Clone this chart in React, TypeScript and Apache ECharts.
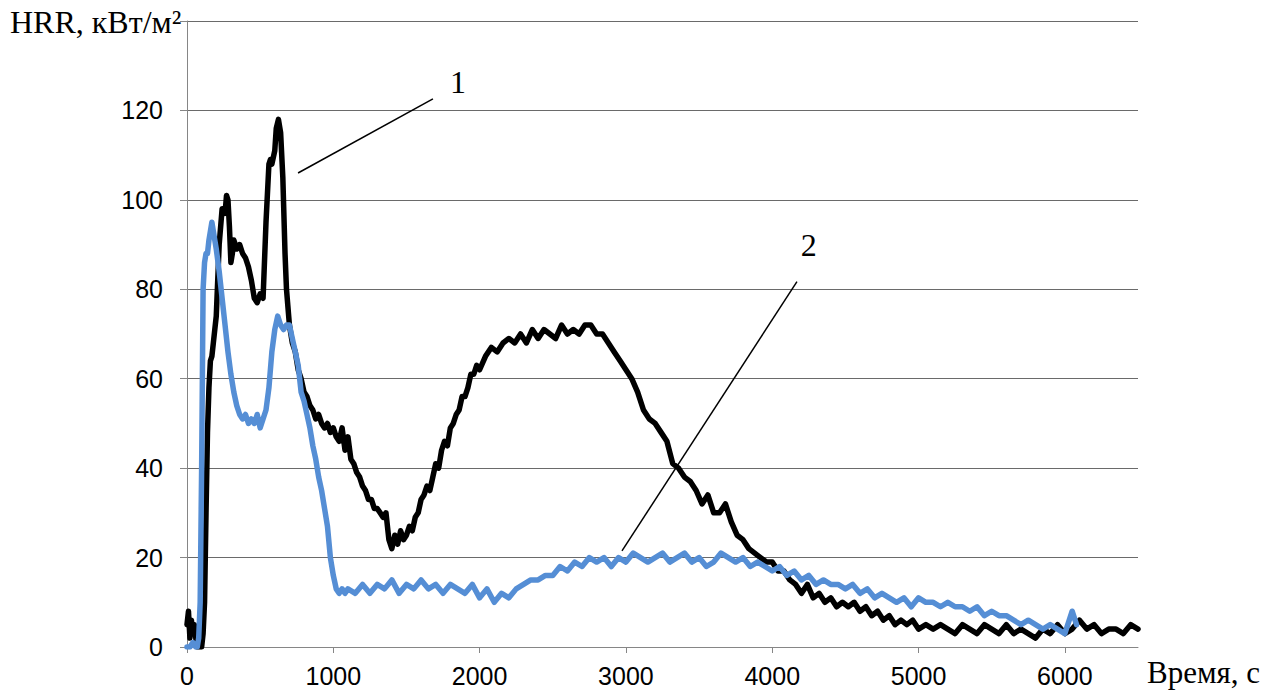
import React, { useEffect, useRef } from "react";
import * as echarts from "echarts";

// Curve 1 (black)
const blackTime = [0,10,20,30,40,50,60,70,80,90,100,110,120,130,140,150,160,170,180,190,200,220,240,260,270,280,290,300,310,320,340,360,380,400,420,440,460,480,500,520,540,560,570,580,600,610,625,640,655,670,680,700,720,740,760,780,800,820,840,860,880,900,920,940,960,980,1000,1020,1040,1060,1080,1100,1120,1140,1160,1180,1200,1220,1240,1260,1280,1300,1320,1340,1360,1380,1400,1420,1440,1460,1480,1500,1520,1540,1560,1580,1600,1620,1640,1660,1680,1700,1720,1740,1760,1780,1800,1820,1840,1860,1880,1900,1920,1940,1960,1980,2000,2040,2080,2120,2160,2200,2240,2280,2320,2360,2400,2440,2480,2520,2560,2600,2640,2680,2720,2760,2800,2840,2880,2920,2960,3000,3040,3080,3120,3160,3200,3240,3280,3320,3360,3400,3440,3480,3520,3560,3600,3640,3680,3720,3760,3800,3840,3880,3920,3960,4000,4040,4080,4120,4160,4200,4240,4280,4320,4360,4400,4440,4480,4520,4560,4600,4640,4680,4720,4760,4800,4840,4880,4920,4960,5000,5050,5100,5150,5200,5250,5300,5350,5400,5450,5500,5550,5600,5650,5700,5750,5800,5850,5900,5950,6000,6050,6100,6150,6200,6250,6300,6350,6400,6450,6500];
const blackHRR = [5,8,2,6,3,5,2,0,1,0,0,3,10,30,48,58,64,65,68,71,74,90,98,97,101,100,94,86,88,91,89,90,88,87,85,82,78,77,79,78,95,108,109,108,111,116,118,115,105,88,80,72,68,66,62,60,57,56,54,53,51,52,50,49,50,48,49,47,46,49,44,47,42,41,39,38,36,35,33,33,31,31,30,29,30,24,22,25,23,26,24,25,27,26,29,30,33,34,36,35,38,41,40,44,46,45,49,50,52,53,56,56,58,61,61,63,62,65,67,66,68,69,68,70,68,71,69,71,70,69,72,70,71,70,72,72,70,70,68,66,64,62,60,57,53,51,50,48,46,41,40,38,37,35,32,34,30,30,32,28,25,24,22,21,20,19,19,17,17,15,14,12,14,11,12,10,11,9,10,9,10,8,9,7,8,6,7,5,6,5,6,4,5,4,5,4,3,5,4,3,5,4,3,5,3,4,3,2,4,3,5,3,4,6,4,5,3,4,4,3,5,4,4,5,3];

// Curve 2 (blue)
const blueTime = [0,20,40,60,70,80,90,100,110,120,130,140,150,160,170,180,190,200,220,240,260,280,300,320,340,360,380,400,420,440,460,480,500,520,540,560,580,600,620,640,660,680,700,720,740,760,780,800,820,840,860,880,900,920,940,960,980,1000,1020,1040,1060,1080,1100,1150,1200,1250,1300,1350,1400,1450,1500,1550,1600,1650,1700,1750,1800,1850,1900,1950,2000,2050,2100,2150,2200,2250,2300,2350,2400,2450,2500,2550,2600,2650,2700,2750,2800,2850,2900,2950,3000,3050,3100,3150,3200,3250,3300,3350,3400,3450,3500,3550,3600,3650,3700,3750,3800,3850,3900,3950,4000,4050,4100,4150,4200,4250,4300,4350,4400,4450,4500,4550,4600,4650,4700,4750,4800,4850,4900,4950,5000,5050,5100,5150,5200,5250,5300,5350,5400,5450,5500,5550,5600,5650,5700,5750,5800,5850,5900,5950,6000,6050,6080];
const blueHRR = [0,0,1,0,0,2,10,40,80,86,88,88,91,93,95,93,91,89,84,78,72,66,61,57,54,52,51,52,50,51,50,52,49,51,53,58,66,71,74,72,71,72,72,69,66,63,57,55,52,49,45,42,38,35,31,27,20,16,13,12,13,12,13,12,14,12,14,13,15,12,14,13,15,13,14,12,14,13,12,14,11,13,10,12,11,13,14,15,15,16,16,18,17,19,18,20,19,20,18,20,19,21,20,19,20,21,19,20,21,19,20,18,19,21,20,19,20,18,19,18,17,18,16,17,15,16,14,15,14,14,13,14,12,13,11,12,11,10,11,9,11,10,10,9,10,9,9,8,9,7,8,7,7,6,5,6,5,4,5,4,3,8,5];

const xTicks = [0, 1000, 2000, 3000, 4000, 5000, 6000];
const yTicks = [0, 20, 40, 60, 80, 100, 120];

// Leader lines for curve labels [time, HRR]
const leader1 = [[759, 106], [1681, 122.6]];
const leader2 = [[2973, 21.5], [4169, 81.7]];
const label1 = [1852, 126.4];
const label2 = [4249, 89.9];

function pairs(t: number[], v: number[]) {
  return t.map((x, i) => [x, v[i]]);
}

export default function App() {
  const ref = useRef<HTMLDivElement>(null);
  useEffect(() => {
    if (!ref.current) return;
    const chart = echarts.init(ref.current, null, { renderer: "svg" });
    const serif = "'Liberation Serif', 'Times New Roman', serif";
    const sans = "'Liberation Sans', Arial, sans-serif";
    chart.setOption({
      animation: false,
      backgroundColor: "#fff",
      grid: { left: 187, right: 128, top: 21, bottom: 46, containLabel: false },
      xAxis: {
        type: "value",
        min: 0,
        max: 6500,
        interval: 1000,
        axisLine: { show: true, lineStyle: { color: "#868686", width: 1 } },
        axisTick: { show: true, length: 6, lineStyle: { color: "#868686" } },
        axisLabel: {
          color: "#000",
          fontFamily: sans,
          fontSize: 25,
          margin: 16,
          showMaxLabel: false,
          formatter: (v: number) => (xTicks.includes(v) ? String(v) : ""),
        },
        splitLine: { show: false },
      },
      yAxis: {
        type: "value",
        min: 0,
        max: 140,
        interval: 20,
        axisLine: { show: true, lineStyle: { color: "#868686", width: 1 } },
        axisTick: { show: true, length: 7, lineStyle: { color: "#868686" } },
        axisLabel: {
          color: "#000",
          fontFamily: sans,
          fontSize: 25,
          margin: 24,
          formatter: (v: number) => (yTicks.includes(v) ? String(v) : ""),
        },
        splitLine: { show: true, lineStyle: { color: "#6a6a6a", width: 1 } },
      },
      graphic: [
        {
          type: "text",
          left: 10,
          top: 6,
          style: { text: "HRR, кВт/м²", fontSize: 32, fontFamily: serif, fill: "#000" },
        },
        {
          type: "text",
          left: 1147,
          top: 657,
          style: { text: "Время, с", fontSize: 31, fontFamily: serif, fill: "#000" },
        },
      ],
      series: [
        {
          type: "line",
          name: "1",
          data: pairs(blackTime, blackHRR),
          showSymbol: false,
          symbol: "none",
          lineStyle: { color: "#000", width: 5.5, join: "round", cap: "round" },
          z: 2,
          markLine: {
            silent: true,
            symbol: "none",
            lineStyle: { color: "#000", width: 1.5, type: "solid" },
            label: { show: false },
            data: [
              [{ coord: leader1[0] }, { coord: leader1[1] }],
              [{ coord: leader2[0] }, { coord: leader2[1] }],
            ],
          },
          markPoint: {
            silent: true,
            symbol: "circle",
            symbolSize: 0,
            label: {
              show: true,
              position: "inside",
              color: "#000",
              fontFamily: serif,
              fontSize: 32,
              formatter: (p: any) => p.name,
            },
            data: [
              { name: "1", coord: label1 },
              { name: "2", coord: label2 },
            ],
          },
        },
        {
          type: "line",
          name: "2",
          data: pairs(blueTime, blueHRR),
          showSymbol: false,
          symbol: "none",
          lineStyle: { color: "#558ED5", width: 5.5, join: "round", cap: "round" },
          z: 3,
        },
      ],
    });
    return () => chart.dispose();
  }, []);
  return (
    <div
      ref={ref}
      style={{ position: "fixed", left: 0, top: 0, width: 1266, height: 693 }}
    />
  );
}
